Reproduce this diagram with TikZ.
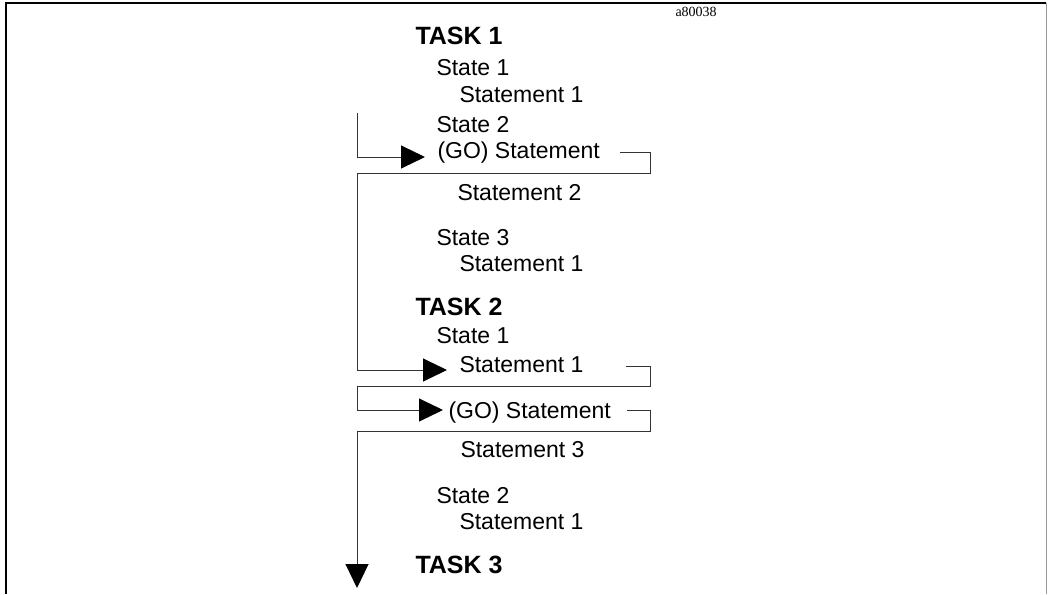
\documentclass[tikz,border=0pt]{standalone}
\usepackage{fontspec}
\setmainfont{Liberation Sans}
\newfontfamily\tagfont{Liberation Serif}
\usetikzlibrary{arrows.meta}

\begin{document}
\begin{tikzpicture}[x=1pt, y=-1pt, line width=1pt,
  txt/.style={anchor=base west, inner sep=0pt, font=\fontsize{23}{27}\selectfont},
  task/.style={anchor=base west, inner sep=0pt, font=\fontsize{25}{30}\selectfont\bfseries},
  flow/.style={draw=black!80, -{Triangle[length=24pt,width=23pt,black]}}]
\useasboundingbox (0,0) rectangle (1048,594);
% frame
\draw[line width=1.5pt] (6,594) -- (6,3) -- (1046,3);
\draw[black!40] (1046,3) -- (1046,594);
\begin{scope}
\node[task] (t1) at (415,45) {TASK 1};
\node[txt] (st11) at (436,75) {State 1};
\node[txt] (sm111) at (459,102) {Statement 1};
\node[txt] (st12) at (436,132) {State 2};
\node[txt] (go1) at (437,158) {(GO) Statement};
\node[txt] (sm122) at (457,200) {Statement 2};
\node[txt] (st13) at (436,245) {State 3};
\node[txt] (sm131) at (459,271) {Statement 1};
\node[task] (t2) at (415,315) {TASK 2};
\node[txt] (st21) at (436,343) {State 1};
\node[txt] (sm211) at (459,372) {Statement 1};
\node[txt] (go2) at (448,418) {(GO) Statement};
\node[txt] (sm213) at (460,457) {Statement 3};
\node[txt] (st22) at (436,503) {State 2};
\node[txt] (sm221) at (459,529) {Statement 1};
\node[task] (t3) at (415,573) {TASK 3};
\node[anchor=base west, inner sep=0pt, font=\tagfont\fontsize{14}{16}\selectfont] (tag) at (675,17) {a80038};
%\node[txt] () at (,) {};
\end{scope}
\begin{scope}
\coordinate (in1) at (357,113);
\coordinate (tip1) at (425,157);
\coordinate (out1) at (620,152);
\coordinate (ret1) at (650,173);
\coordinate (tip2) at (447,370);
\coordinate (out2) at (626,366);
\coordinate (ret2) at (650,386);
\coordinate (tip3) at (443,410);
\coordinate (out3) at (627,410);
\coordinate (ret3) at (650,431);
\coordinate (tip4) at (357,588);
\draw[flow] (in1) |- (tip1);
\draw[flow] (out1) -| (ret1) -- (357,173) |- (tip2);
\draw[flow] (out2) -| (ret2) -- (357,386) |- (tip3);
\draw[flow] (out3) -| (ret3) -- (357,431) -- (tip4);
\end{scope}
\end{tikzpicture}
\end{document}
